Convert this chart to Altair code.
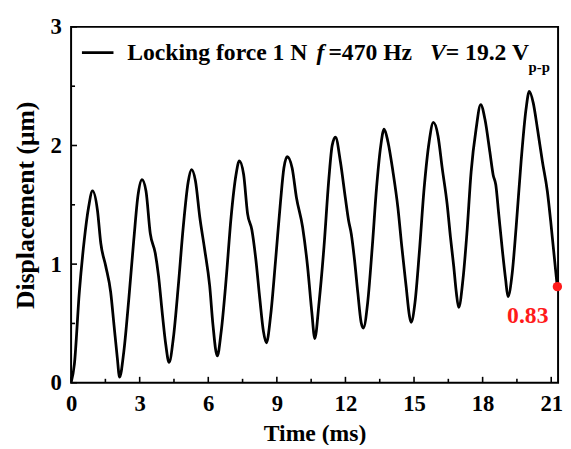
import altair as alt
import pandas as pd

# Displacement trace
time_ms = [0.0, 0.144, 0.36, 0.577, 0.765, 0.938, 1.154, 1.299, 1.515, 1.732, 1.876, 2.02, 2.121,
           2.309, 2.525, 2.742, 2.929, 3.102, 3.276, 3.463, 3.68, 3.824, 3.997, 4.141, 4.286,
           4.473, 4.69, 4.906, 5.123, 5.267, 5.44, 5.628, 5.844, 6.061, 6.205, 6.393,
           6.566, 6.782, 6.999, 7.215, 7.359, 7.547, 7.72, 7.908, 8.081, 8.254, 8.413, 8.543,
           8.73, 8.947, 9.163, 9.307, 9.452, 9.668, 9.856, 10.127, 10.343, 10.53, 10.659,
           10.846, 11.061, 11.277, 11.42, 11.564, 11.78, 11.995, 12.139, 12.254, 12.397, 12.541, 12.685, 12.785,
           12.972, 13.173, 13.36, 13.547, 13.691, 13.863, 14.078, 14.294, 14.466, 14.653, 14.797, 14.869,
           15.041, 15.228, 15.443, 15.659, 15.846, 16.047, 16.234, 16.449, 16.593, 16.737, 16.851, 16.952,
           17.139, 17.311, 17.498, 17.714, 17.915, 18.102, 18.317, 18.461, 18.576, 18.705, 18.863, 19.007, 19.107,
           19.294, 19.466, 19.682, 19.897, 20.041, 20.214, 20.4, 20.616, 20.831, 20.975, 21.09, 21.191, 21.263]
displacement = [0.0, 0.157, 0.763, 1.204, 1.479, 1.617, 1.452, 1.176, 0.983, 0.763, 0.488, 0.212, 0.047,
                0.267, 0.708, 1.204, 1.584, 1.713, 1.617, 1.259, 1.094, 0.901, 0.57, 0.322, 0.171,
                0.377, 0.818, 1.314, 1.694, 1.796, 1.7, 1.397, 1.121, 0.818, 0.488, 0.226,
                0.433, 0.873, 1.397, 1.755, 1.871, 1.755, 1.424, 1.287, 1.039, 0.708, 0.433, 0.336,
                0.57, 1.039, 1.534, 1.81, 1.906, 1.81, 1.562, 1.311, 0.98, 0.593, 0.373,
                0.676, 1.145, 1.725, 2.001, 2.07, 1.863, 1.559, 1.366, 1.256, 1.035, 0.759, 0.51, 0.461,
                0.676, 1.145, 1.642, 2.001, 2.139, 2.028, 1.78, 1.476, 1.145, 0.814, 0.566, 0.51,
                0.676, 1.09, 1.642, 2.028, 2.194, 2.083, 1.807, 1.504, 1.228, 0.98, 0.759, 0.635,
                0.869, 1.256, 1.78, 2.139, 2.345, 2.221, 1.945, 1.752, 1.669, 1.421, 1.118, 0.869, 0.726,
                0.924, 1.311, 1.863, 2.304, 2.456, 2.359, 2.139, 1.863, 1.614, 1.366, 1.145, 0.952, 0.814]

end_time = [21.27]
end_disp = [0.81]
end_label = ["0.83"]

x_major = [0, 3, 6, 9, 12, 15, 18, 21]
x_minor = [1.5, 4.5, 7.5, 10.5, 13.5, 16.5, 19.5]
y_major = [0, 1, 2, 3]
y_minor = [0.5, 1.5, 2.5]

W, H = 494, 361
FONT = "Liberation Serif"

df = pd.DataFrame({"t": time_ms, "d": displacement})
end_df = pd.DataFrame({"t": end_time, "d": end_disp, "label": end_label})

xs = alt.Scale(domain=[0, 21.3], nice=False, zero=False)
ys = alt.Scale(domain=[0, 3], nice=False)

line = alt.Chart(df).mark_line(color="black", strokeWidth=2.8, interpolate="monotone", clip=True).encode(
    x=alt.X("t:Q", scale=xs,
            axis=alt.Axis(title="Time (ms)", values=x_major, format="d", ticks=False, domain=False,
                          grid=False, labelFlush=False, labelPadding=10, titlePadding=7, titleFontSize=24)),
    y=alt.Y("d:Q", scale=ys,
            axis=alt.Axis(title="Displacement (μm)", values=y_major, format="d", ticks=False, domain=False,
                          grid=False, labelFlush=False, labelPadding=10, titlePadding=12, titleFontSize=26)),
)

xmaj = alt.Chart(pd.DataFrame({"v": x_major})).mark_rule(color="black", strokeWidth=1.6).encode(
    x=alt.X("v:Q", scale=xs), y=alt.value(H), y2=alt.value(H - 6))
xmin = alt.Chart(pd.DataFrame({"v": x_minor})).mark_rule(color="black", strokeWidth=1.6).encode(
    x=alt.X("v:Q", scale=xs), y=alt.value(H), y2=alt.value(H - 4))
ymaj = alt.Chart(pd.DataFrame({"v": y_major})).mark_rule(color="black", strokeWidth=1.6).encode(
    y=alt.Y("v:Q", scale=ys), x=alt.value(0), x2=alt.value(6))
ymin = alt.Chart(pd.DataFrame({"v": y_minor})).mark_rule(color="black", strokeWidth=1.6).encode(
    y=alt.Y("v:Q", scale=ys), x=alt.value(0), x2=alt.value(4))

dot = alt.Chart(end_df).mark_circle(color="#ff1a1a", size=90, opacity=1, clip=False).encode(
    x=alt.X("t:Q", scale=xs), y=alt.Y("d:Q", scale=ys))
dot_label = alt.Chart(end_df).mark_text(color="#ff1a1a", font=FONT, fontWeight="bold", fontSize=24,
                                         dx=-30, dy=30).encode(
    x=alt.X("t:Q", scale=xs), y=alt.Y("d:Q", scale=ys), text="label:N")

leg_line = alt.Chart(pd.DataFrame({"a": [0]})).mark_rule(color="black", strokeWidth=2.8).encode(
    x=alt.value(11), x2=alt.value(43), y=alt.value(26))

def leg_text(txt, x, y=27, style="normal", size=24):
    return alt.Chart(pd.DataFrame({"s": [txt]})).mark_text(
        font=FONT, fontWeight="bold", fontStyle=style, fontSize=size, align="left",
        baseline="middle", color="black").encode(x=alt.value(x), y=alt.value(y), text="s:N")

legend = [
    leg_line,
    leg_text("Locking force 1 N", 57),
    leg_text("f", 249, style="italic"),
    leg_text("=470 Hz", 261),
    leg_text("V", 364, style="italic"),
    leg_text("= 19.2 V", 380),
    leg_text("p-p", 464, y=41, size=15),
]

chart = alt.layer(line, xmaj, xmin, ymaj, ymin, dot, dot_label, *legend).properties(
    width=W, height=H,
    background="white",
    autosize=alt.AutoSizeParams(type="none"),
    padding={"left": 64, "top": 16, "right": 5, "bottom": 60},
).configure_view(stroke="black", strokeWidth=2).configure_axis(
    labelFont=FONT, titleFont=FONT, labelFontWeight="bold", titleFontWeight="bold",
    labelFontSize=23, labelColor="black", titleColor="black",
)

chart.save("out.html", embed_options={"renderer": "svg", "actions": False})
